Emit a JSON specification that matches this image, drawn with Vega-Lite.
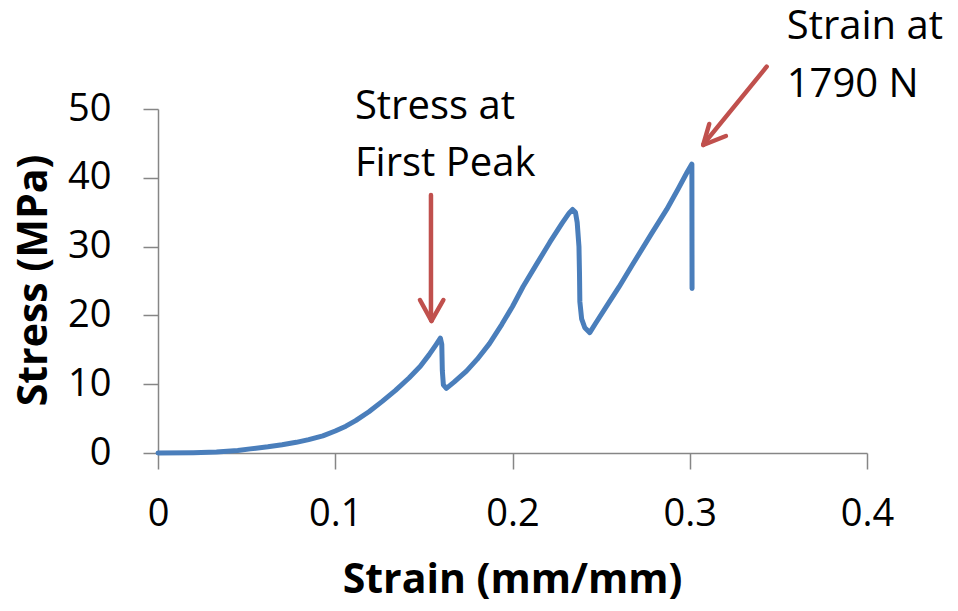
{
  "$schema": "https://vega.github.io/schema/vega-lite/v6.json",
  "width": 709,
  "height": 344,
  "autosize": {"type": "none"},
  "padding": {"left": 158, "top": 109, "right": 91, "bottom": 158},
  "background": "white",
  "config": {"view": {"stroke": null}, "font": "Open Sans"},
  "datasets": {
    "curve": [
      {"seq": 1, "strain": 0, "stress": 0},
      {"seq": 2, "strain": 0.02, "stress": 0.05},
      {"seq": 3, "strain": 0.033, "stress": 0.15},
      {"seq": 4, "strain": 0.045, "stress": 0.35},
      {"seq": 5, "strain": 0.052, "stress": 0.6},
      {"seq": 6, "strain": 0.062, "stress": 0.9},
      {"seq": 7, "strain": 0.07, "stress": 1.2},
      {"seq": 8, "strain": 0.078, "stress": 1.55},
      {"seq": 9, "strain": 0.085, "stress": 1.95},
      {"seq": 10, "strain": 0.093, "stress": 2.5},
      {"seq": 11, "strain": 0.1, "stress": 3.2},
      {"seq": 12, "strain": 0.106, "stress": 3.9},
      {"seq": 13, "strain": 0.1115, "stress": 4.7},
      {"seq": 14, "strain": 0.119, "stress": 6.0},
      {"seq": 15, "strain": 0.1265, "stress": 7.5},
      {"seq": 16, "strain": 0.134, "stress": 9.1},
      {"seq": 17, "strain": 0.1416, "stress": 10.9},
      {"seq": 18, "strain": 0.148, "stress": 12.6},
      {"seq": 19, "strain": 0.153, "stress": 14.3},
      {"seq": 20, "strain": 0.157, "stress": 15.8},
      {"seq": 21, "strain": 0.1593, "stress": 16.7},
      {"seq": 22, "strain": 0.1601, "stress": 15.8},
      {"seq": 23, "strain": 0.1604, "stress": 12.0},
      {"seq": 24, "strain": 0.161, "stress": 9.9},
      {"seq": 25, "strain": 0.1627, "stress": 9.4},
      {"seq": 26, "strain": 0.167, "stress": 10.3},
      {"seq": 27, "strain": 0.174, "stress": 11.9},
      {"seq": 28, "strain": 0.18, "stress": 13.6},
      {"seq": 29, "strain": 0.187, "stress": 15.9},
      {"seq": 30, "strain": 0.194, "stress": 18.7},
      {"seq": 31, "strain": 0.2, "stress": 21.3},
      {"seq": 32, "strain": 0.206, "stress": 24.2},
      {"seq": 33, "strain": 0.213, "stress": 27.2},
      {"seq": 34, "strain": 0.221, "stress": 30.6},
      {"seq": 35, "strain": 0.228, "stress": 33.4},
      {"seq": 36, "strain": 0.232, "stress": 34.9},
      {"seq": 37, "strain": 0.2339, "stress": 35.4},
      {"seq": 38, "strain": 0.2355, "stress": 35.0},
      {"seq": 39, "strain": 0.2365, "stress": 33.5},
      {"seq": 40, "strain": 0.2375, "stress": 30.0},
      {"seq": 41, "strain": 0.2378, "stress": 26.0},
      {"seq": 42, "strain": 0.238, "stress": 22.0},
      {"seq": 43, "strain": 0.239, "stress": 19.5},
      {"seq": 44, "strain": 0.2408, "stress": 18.2},
      {"seq": 45, "strain": 0.2436, "stress": 17.5},
      {"seq": 46, "strain": 0.247, "stress": 18.9},
      {"seq": 47, "strain": 0.253, "stress": 21.3},
      {"seq": 48, "strain": 0.26, "stress": 24.1},
      {"seq": 49, "strain": 0.268, "stress": 27.5},
      {"seq": 50, "strain": 0.278, "stress": 31.7},
      {"seq": 51, "strain": 0.287, "stress": 35.4},
      {"seq": 52, "strain": 0.2935, "stress": 38.4},
      {"seq": 53, "strain": 0.2985, "stress": 40.8},
      {"seq": 54, "strain": 0.3012, "stress": 42.0},
      {"seq": 55, "strain": 0.3013, "stress": 23.9}
    ],
    "arrows": [
      {"strain": 0.154, "stress": 37.5, "strain2": 0.154, "stress2": 19.4},
      {"strain": 0.1478, "stress": 22.24, "strain2": 0.1543, "stress2": 19.19},
      {"strain": 0.161, "stress": 22.24, "strain2": 0.1543, "stress2": 19.19},
      {"strain": 0.3434, "stress": 56.15, "strain2": 0.3078, "stress2": 44.9},
      {"strain": 0.311, "stress": 47.82, "strain2": 0.3076, "stress2": 44.77},
      {"strain": 0.3204, "stress": 46.08, "strain2": 0.3076, "stress2": 44.77}
    ],
    "labels": [
      {"strain": 0.1111, "stress": 48.55, "txt": "Stress at\nFirst Peak"},
      {"strain": 0.3547, "stress": 60.13, "txt": "Strain at\n1790 N"}
    ]
  },
  "layer": [
    {
      "data": {"name": "curve"},
      "mark": {"type": "line", "color": "#4a7ebb", "strokeWidth": 5, "strokeCap": "round", "strokeJoin": "round", "clip": false},
      "encoding": {
        "x": {
          "field": "strain", "type": "quantitative",
          "scale": {"domain": [0, 0.4], "nice": false, "zero": false},
          "axis": {
            "values": [0, 0.1, 0.2, 0.3, 0.4], "format": "~g", "grid": false,
            "domainColor": "#868686", "domainWidth": 1.5,
            "tickColor": "#868686", "tickWidth": 1.5, "tickSize": 16,
            "labelFont": "Open Sans", "labelFontSize": 38, "labelColor": "black",
            "labelPadding": 26, "labelFlush": false, "labelOverlap": false, "labelBound": false,
            "title": "Strain (mm/mm)", "titleFont": "Open Sans", "titleFontSize": 41,
            "titleFontWeight": "bold", "titleColor": "black",
            "titleX": 354, "titleY": 139, "titleBaseline": "alphabetic", "titleAlign": "center"
          }
        },
        "y": {
          "field": "stress", "type": "quantitative",
          "scale": {"domain": [0, 50], "nice": false, "zero": false},
          "axis": {
            "values": [0, 10, 20, 30, 40, 50], "grid": false,
            "domainColor": "#868686", "domainWidth": 1.5,
            "tickColor": "#868686", "tickWidth": 1.5, "tickSize": 15,
            "labelFont": "Open Sans", "labelFontSize": 38, "labelColor": "black",
            "labelPadding": 32, "labelFlush": false, "labelOverlap": false, "labelBound": false,
            "title": "Stress (MPa)", "titleFont": "Open Sans", "titleFontSize": 41,
            "titleFontWeight": "bold", "titleColor": "black",
            "titleX": -112, "titleY": 171, "titleAngle": 270,
            "titleBaseline": "alphabetic", "titleAlign": "center"
          }
        },
        "order": {"field": "seq", "type": "quantitative"}
      }
    },
    {
      "data": {"name": "arrows"},
      "mark": {"type": "rule", "color": "#c0504d", "strokeWidth": 4.5, "strokeCap": "round", "clip": false},
      "encoding": {
        "x": {"field": "strain", "type": "quantitative"},
        "y": {"field": "stress", "type": "quantitative"},
        "x2": {"field": "strain2"},
        "y2": {"field": "stress2"}
      }
    },
    {
      "data": {"name": "labels"},
      "mark": {"type": "text", "font": "Open Sans", "fontSize": 40, "color": "black", "align": "left", "baseline": "alphabetic", "lineBreak": "\n", "lineHeight": 57.5, "clip": false},
      "encoding": {
        "x": {"field": "strain", "type": "quantitative"},
        "y": {"field": "stress", "type": "quantitative"},
        "text": {"field": "txt", "type": "nominal"}
      }
    }
  ]
}
